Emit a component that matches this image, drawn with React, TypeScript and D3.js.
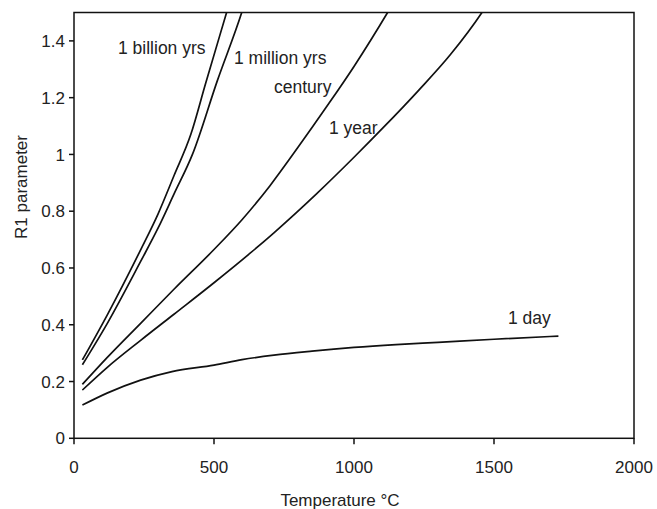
import React from 'react';
import * as d3 from 'd3';

// ticks
const xTicks = [0, 500, 1000, 1500, 2000];
const yTicks = [0, 0.2, 0.4, 0.6, 0.8, 1, 1.2, 1.4];

// curves: [temperature °C, R1]
const billionYrs: [number, number][] = [
  [30, 0.276], [119, 0.435], [238, 0.664], [300, 0.79], [357, 0.925],
  [417, 1.07], [470, 1.25], [545, 1.5], [560, 1.55],
];
const millionYrs: [number, number][] = [
  [30, 0.259], [119, 0.405], [238, 0.623], [300, 0.74], [357, 0.86],
  [423, 1.0], [512, 1.26], [599, 1.5], [615, 1.55],
];
const century: [number, number][] = [
  [30, 0.19], [119, 0.285], [238, 0.405], [357, 0.525], [500, 0.665],
  [600, 0.77], [700, 0.89], [800, 1.025], [900, 1.165], [1000, 1.31],
  [1120, 1.5], [1150, 1.55],
];
const oneYear: [number, number][] = [
  [30, 0.17], [119, 0.25], [238, 0.345], [357, 0.437], [500, 0.548],
  [629, 0.652], [714, 0.724], [867, 0.862], [1000, 0.99], [1105, 1.095],
  [1230, 1.225], [1343, 1.35], [1457, 1.5], [1490, 1.55],
];
const oneDay: [number, number][] = [
  [30, 0.117], [120, 0.16], [238, 0.205], [350, 0.235], [500, 0.258],
  [600, 0.277], [714, 0.293], [850, 0.307], [1000, 0.32], [1150, 0.33],
  [1300, 0.338], [1500, 0.349], [1730, 0.36],
];

const series = [billionYrs, millionYrs, century, oneYear, oneDay];

const curveLabels = [
  { text: '1 billion yrs', x: 118, y: 54 },
  { text: '1 million yrs', x: 234, y: 64 },
  { text: 'century', x: 274, y: 93 },
  { text: '1 year', x: 329, y: 134 },
  { text: '1 day', x: 508, y: 324 },
];

const font = '"Liberation Sans", Arial, sans-serif';

export default function App() {
  const left = 74, right = 634, top = 12.5, bottom = 438.3;
  const x = d3.scaleLinear().domain([0, 2000]).range([left, right]);
  const y = d3.scaleLinear().domain([0, 1.5]).range([bottom, top]);

  const line = d3.line<[number, number]>()
    .x(d => x(d[0]))
    .y(d => y(d[1]))
    .curve(d3.curveMonotoneX);

  return (
    <svg width={657} height={509} style={{ position: 'absolute', left: 0, top: 0, background: '#fff' }}>
      <defs>
        <clipPath id="plot">
          <rect x={left} y={top} width={right - left} height={bottom - top} />
        </clipPath>
      </defs>

      {/* curves */}
      <g clipPath="url(#plot)">
        {series.map((s, i) => (
          <path key={i} d={line(s) || ''} fill="none" stroke="#111" strokeWidth={1.7} />
        ))}
      </g>

      {/* frame */}
      <rect x={left} y={top} width={right - left} height={bottom - top} fill="none" stroke="#111" strokeWidth={1.5} />

      {/* y axis */}
      {yTicks.map(t => (
        <g key={t}>
          <line x1={left - 5} x2={left} y1={y(t)} y2={y(t)} stroke="#111" strokeWidth={1.5} />
          <text x={65} y={y(t)} dy="0.36em" textAnchor="end" fontFamily={font} fontSize={17} fill="#222">{t}</text>
        </g>
      ))}

      {/* x axis */}
      {xTicks.map(t => (
        <g key={t}>
          <line x1={x(t)} x2={x(t)} y1={bottom} y2={bottom + 6} stroke="#111" strokeWidth={1.5} />
          <text x={x(t)} y={473} textAnchor="middle" fontFamily={font} fontSize={17} fill="#222">{t}</text>
        </g>
      ))}

      {/* axis titles */}
      <text x={340} y={506} textAnchor="middle" fontFamily={font} fontSize={17} fill="#222">Temperature °C</text>
      <text transform="translate(27,187) rotate(-90)" textAnchor="middle" fontFamily={font} fontSize={17} fill="#222">R1 parameter</text>

      {/* curve labels */}
      {curveLabels.map(l => (
        <text key={l.text} x={l.x} y={l.y} fontFamily={font} fontSize={17.5} fill="#222">{l.text}</text>
      ))}
    </svg>
  );
}
